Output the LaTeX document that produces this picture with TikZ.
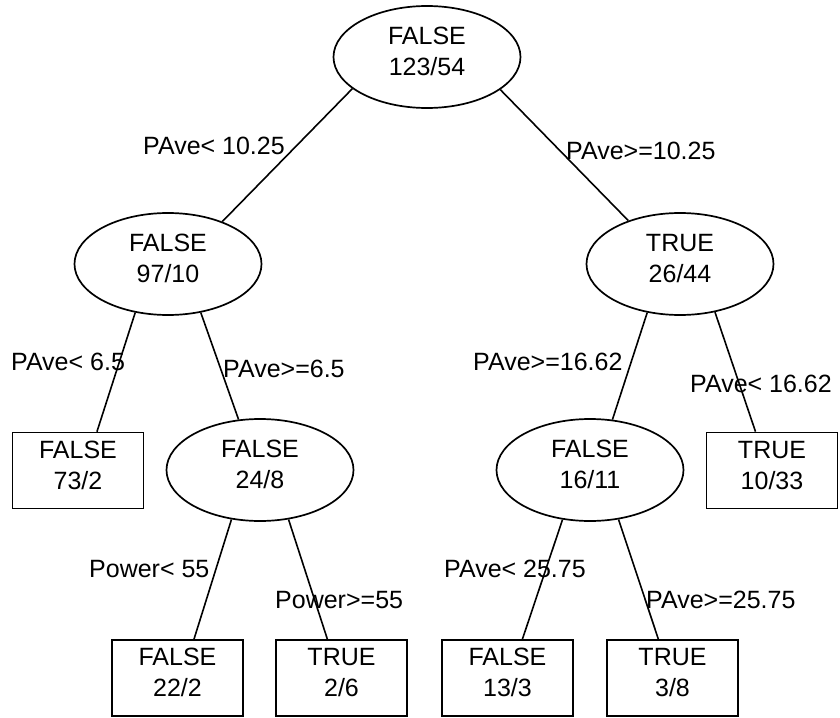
\documentclass[tikz,border=0pt]{standalone}
\usepackage{fontspec}
\setmainfont{Liberation Sans}
\usetikzlibrary{shapes.geometric}
\begin{document}
\begin{tikzpicture}[x=1pt,y=-1pt,
  every node/.style={font=\fontsize{25}{31}\selectfont},
  ell/.style={draw, ellipse, line width=1.7pt, minimum width=187pt, minimum height=102pt, inner sep=0pt, align=center, text depth=11pt},
  leaf/.style={draw, rectangle, line width=1.7pt, minimum width=131pt, minimum height=76pt, inner sep=0pt, align=center, text depth=11pt},
  edge/.style={line width=1.6pt},
  lbl/.style={anchor=base west, inner sep=0pt}]
\useasboundingbox[fill=white] (0,0) rectangle (840,717);
\node[ell] (n1) at (427,57) {FALSE\\123/54};
\node[ell] (n2) at (168,264) {FALSE\\97/10};
\node[ell] (n3) at (680,264) {TRUE\\26/44};
\node[leaf] (n4) at (78,470.5) {FALSE\\73/2};
\node[ell] (n5) at (260,470) {FALSE\\24/8};
\node[ell] (n6) at (590,470) {FALSE\\16/11};
\node[leaf] (n7) at (772,470.5) {TRUE\\10/33};
\node[leaf] (n8) at (177.5,678) {FALSE\\22/2};
\node[leaf] (n9) at (341.5,678) {TRUE\\2/6};
\node[leaf] (n10) at (507.5,678) {FALSE\\13/3};
\node[leaf] (n11) at (672.5,678) {TRUE\\3/8};
\draw[edge] (n1.203.9) -- (n2.38.9);
\draw[edge] (n1.336.3) -- (n3.140);
\draw[edge] (n2.236) -- (n4.64.4);
\draw[edge] (n2.304.8) -- (n5.113.9);
\draw[edge] (n3.236.9) -- (n6.66.1);
\draw[edge] (n3.306.3) -- (n7.113.1);
\draw[edge] (n5.240) -- (n8.67.8);
\draw[edge] (n5.300) -- (n9.110.9);
\draw[edge] (n6.241.7) -- (n10.69.1);
\draw[edge] (n6.300) -- (n11.110.9);
\node[lbl] (l1) at (143,154) {PAve< 10.25};
\node[lbl] (l2) at (566,159) {PAve>=10.25};
\node[lbl] (l3) at (11,370) {PAve< 6.5};
\node[lbl] (l4) at (223,377) {PAve>=6.5};
\node[lbl] (l5) at (473,370) {PAve>=16.62};
\node[lbl] (l6) at (690,392) {PAve< 16.62};
\node[lbl] (l7) at (89,577) {Power< 55};
\node[lbl] (l8) at (275,608) {Power>=55};
\node[lbl] (l9) at (444,577) {PAve< 25.75};
\node[lbl] (l10) at (646,608) {PAve>=25.75};
\end{tikzpicture}
\end{document}
